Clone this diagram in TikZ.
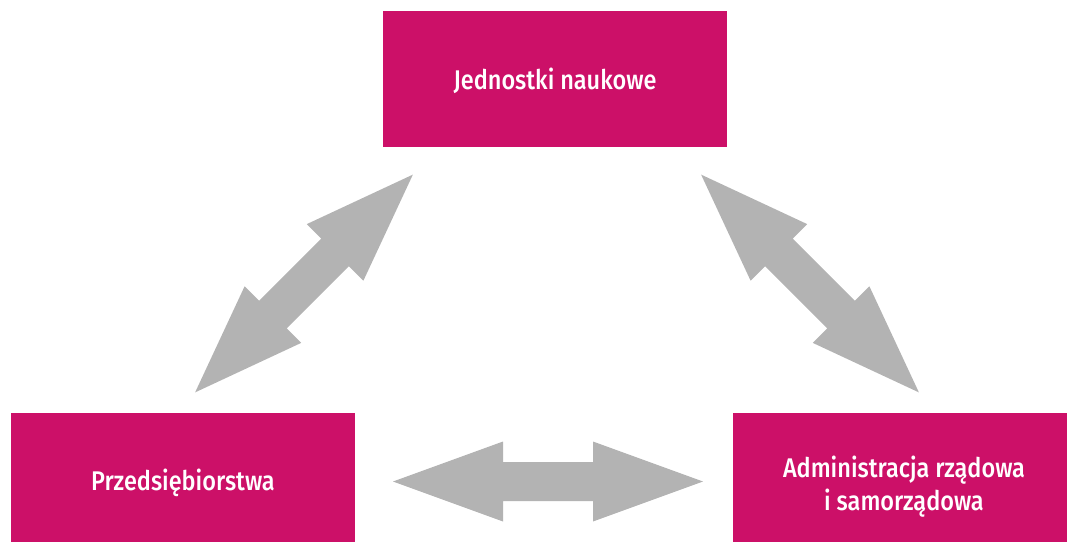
\documentclass[tikz,border=0pt]{standalone}
\usepackage{fontspec}
\setmainfont{Fira Sans Medium}[FakeStretch=0.87]
\definecolor{boxpink}{HTML}{CC1068}
\definecolor{arrowgray}{HTML}{B3B3B3}
\begin{document}
\begin{tikzpicture}[x=1pt,y=-1pt,
  unit/.style={fill=boxpink, inner sep=0pt},
  caption/.style={text=white, inner sep=0pt, align=center, anchor=base,
    font=\fontsize{27}{33}\selectfont},
  twoway/.style={fill=arrowgray},
]
\useasboundingbox (0,0) rectangle (1069,543);

% three institutions
\node[unit, minimum width=344pt, minimum height=136pt] (nauka) at (555,79) {};
\node[unit, minimum width=344pt, minimum height=129pt] (firmy) at (183,477.5) {};
\node[unit, minimum width=334pt, minimum height=129pt] (admin) at (900,477.5) {};

% their names (multi-line text sits on the baseline of its last line)
\node[caption] (naukaText) at (555,89) {Jednostki naukowe};
\node[caption] (firmyText) at (183,490) {Przedsiębiorstwa};
\node[caption] (adminText) at (904,510) {Administracja rządowa\\i samorządowa};

% broad two-way arrows between them
\newcommand{\wideArrow}[1]{%
  \fill[twoway] (-#1,0) -- (-#1+110,40) -- (-#1+110,19.5) -- (#1-110,19.5) -- (#1-110,40)
    -- (#1,0) -- (#1-110,-40) -- (#1-110,-19.5) -- (-#1+110,-19.5) -- (-#1+110,-40) -- cycle;}

\begin{scope}[shift={(304,283.5)}, rotate=45]
  \wideArrow{154}
\end{scope}
\begin{scope}[shift={(810,283.5)}, rotate=-45]
  \wideArrow{154}
\end{scope}
\begin{scope}[shift={(548,481.5)}]
  \wideArrow{155}
\end{scope}
\end{tikzpicture}
\end{document}
